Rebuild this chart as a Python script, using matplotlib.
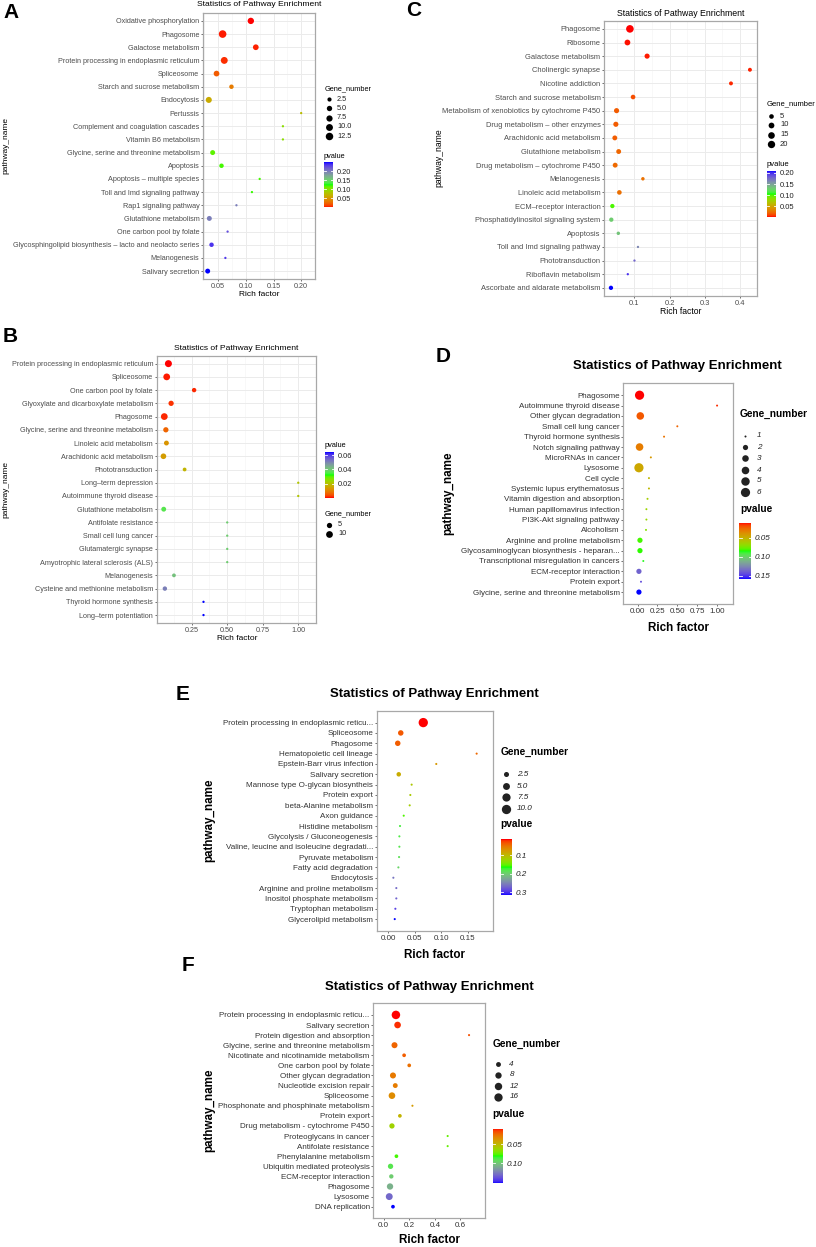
import numpy as np
import matplotlib
matplotlib.use("Agg")
import matplotlib.pyplot as plt
from matplotlib.colors import ListedColormap, Normalize
from matplotlib.cm import ScalarMappable

plt.rcParams['font.family'] = ['Liberation Sans', 'DejaVu Sans']

W, H, DPI = 816, 1247, 100

# ---------------- data ----------------
a_names = ["Oxidative phosphorylation", "Phagosome", "Galactose metabolism",
           "Protein processing in endoplasmic reticulum", "Spliceosome",
           "Starch and sucrose metabolism", "Endocytosis", "Pertussis",
           "Complement and coagulation cascades", "Vitamin B6 metabolism",
           "Glycine, serine and threonine metabolism", "Apoptosis",
           "Apoptosis \u2013 multiple species", "Toll and Imd signaling pathway",
           "Rap1 signaling pathway", "Glutathione metabolism", "One carbon pool by folate",
           "Glycosphingolipid biosynthesis \u2013 lacto and neolacto series",
           "Melanogenesis", "Salivary secretion"]
a_rich = [0.109, 0.058, 0.118, 0.061, 0.047, 0.074, 0.033, 0.200, 0.167, 0.167,
          0.040, 0.056, 0.125, 0.111, 0.083, 0.034, 0.067, 0.038, 0.063, 0.031]
a_genes = [8, 13, 6, 10, 6, 3, 7, 1, 1, 1, 4, 3, 1, 1, 1, 4, 1, 3, 1, 4]
a_pvalue = [0.001, 0.003, 0.004, 0.006, 0.02, 0.035, 0.063, 0.075, 0.10, 0.10,
            0.115, 0.12, 0.12, 0.122, 0.20, 0.20, 0.225, 0.237, 0.235, 0.25]

b_names = ["Protein processing in endoplasmic reticulum", "Spliceosome",
           "One carbon pool by folate", "Glyoxylate and dicarboxylate metabolism",
           "Phagosome", "Glycine, serine and threonine metabolism",
           "Linoleic acid metabolism", "Arachidonic acid metabolism", "Phototransduction",
           "Long\u2013term depression", "Autoimmune thyroid disease", "Glutathione metabolism",
           "Antifolate resistance", "Small cell lung cancer", "Glutamatergic synapse",
           "Amyotrophic lateral sclerosis (ALS)", "Melanogenesis",
           "Cysteine and methionine metabolism", "Thyroid hormone synthesis",
           "Long\u2013term potentiation"]
b_rich = [0.086, 0.074, 0.267, 0.105, 0.057, 0.068, 0.072, 0.051, 0.200, 1.0,
          1.0, 0.053, 0.5, 0.5, 0.5, 0.5, 0.125, 0.061, 0.333, 0.333]
b_genes = [11, 10, 3, 5, 10, 5, 4, 6, 2, 1, 1, 4, 1, 1, 1, 1, 2, 3, 1, 1]
b_pvalue = [0.0005, 0.001, 0.0015, 0.002, 0.0015, 0.0064, 0.0128, 0.014, 0.018, 0.021,
            0.021, 0.036, 0.0397, 0.0397, 0.0397, 0.0397, 0.0416, 0.051, 0.064, 0.064]

c_names = ["Phagosome", "Ribosome", "Galactose metabolism", "Cholinergic synapse",
           "Nicotine addiction", "Starch and sucrose metabolism",
           "Metabolism of xenobiotics by cytochrome P450",
           "Drug metabolism \u2013 other enzymes", "Arachidonic acid metabolism",
           "Glutathione metabolism", "Drug metabolism \u2013 cytochrome P450",
           "Melanogenesis", "Linoleic acid metabolism", "ECM\u2013receptor interaction",
           "Phosphatidylinositol signaling system", "Apoptosis",
           "Toll and Imd signaling pathway", "Phototransduction", "Riboflavin metabolism",
           "Ascorbate and aldarate metabolism"]
c_rich = [0.087, 0.080, 0.136, 0.429, 0.375, 0.096, 0.049, 0.047, 0.044, 0.055,
          0.045, 0.124, 0.057, 0.037, 0.034, 0.054, 0.110, 0.100, 0.081, 0.033]
c_genes = [22, 10, 7, 3, 3, 5, 7, 7, 6, 6, 6, 2, 5, 4, 4, 2, 1, 1, 1, 4]
c_pvalue = [0.001, 0.002, 0.003, 0.004, 0.005, 0.0125, 0.017, 0.017, 0.018, 0.021,
            0.022, 0.025, 0.024, 0.10, 0.13, 0.134, 0.163, 0.178, 0.199, 0.209]

d_names = ["Phagosome", "Autoimmune thyroid disease", "Other glycan degradation",
           "Small cell lung cancer", "Thyroid hormone synthesis", "Notch signaling pathway",
           "MicroRNAs in cancer", "Lysosome", "Cell cycle", "Systemic lupus erythematosus",
           "Vitamin digestion and absorption", "Human papillomavirus infection",
           "PI3K-Akt signaling pathway", "Alcoholism", "Arginine and proline metabolism",
           "Glycosaminoglycan biosynthesis - heparan...",
           "Transcriptional misregulation in cancers", "ECM-receptor interaction",
           "Protein export", "Glycine, serine and threonine metabolism"]
d_rich = [0.025, 1.0, 0.034, 0.5, 0.333, 0.025, 0.167, 0.017, 0.143, 0.143,
          0.125, 0.111, 0.111, 0.106, 0.030, 0.030, 0.072, 0.017, 0.043, 0.017]
d_genes = [6, 1, 4, 1, 1, 4, 1, 6, 1, 1, 1, 1, 1, 1, 2, 2, 1, 2, 1, 2]
d_pvalue = [0.0105, 0.0135, 0.021, 0.024, 0.028, 0.031, 0.040, 0.046, 0.052, 0.053,
            0.062, 0.065, 0.066, 0.070, 0.081, 0.083, 0.087, 0.137, 0.143, 0.158]

e_names = ["Protein processing in endoplasmic reticu...", "Spliceosome", "Phagosome",
           "Hematopoietic cell lineage", "Epstein-Barr virus infection", "Salivary secretion",
           "Mannose type O-glycan biosyntheis", "Protein export", "beta-Alanine metabolism",
           "Axon guidance", "Histidine metabolism", "Glycolysis / Gluconeogenesis",
           "Valine, leucine and isoleucine degradati...", "Pyruvate metabolism",
           "Fatty acid degradation", "Endocytosis", "Arginine and proline metabolism",
           "Inositol phosphate metabolism", "Tryptophan metabolism", "Glycerolipid metabolism"]
e_rich = [0.066, 0.0234, 0.0177, 0.167, 0.0906, 0.0196, 0.044, 0.0415, 0.0403, 0.029,
          0.022, 0.0208, 0.0208, 0.0202, 0.0189, 0.0094, 0.015, 0.015, 0.0132, 0.012]
e_genes = [10, 3, 3, 1, 1, 2, 1, 1, 1, 1, 1, 1, 1, 1, 1, 1, 1, 1, 1, 1]
e_pvalue = [0.016, 0.037, 0.040, 0.046, 0.076, 0.0905, 0.114, 0.117, 0.120, 0.156,
            0.177, 0.180, 0.183, 0.186, 0.195, 0.260, 0.266, 0.272, 0.290, 0.314]

f_names = ["Protein processing in endoplasmic reticu...", "Salivary secretion",
           "Protein digestion and absorption", "Glycine, serine and threonine metabolism",
           "Nicotinate and nicotinamide metabolism", "One carbon pool by folate",
           "Other glycan degradation", "Nucleotide excision repair", "Spliceosome",
           "Phosphonate and phosphinate metabolism", "Protein export",
           "Drug metabolism - cytochrome P450", "Proteoglycans in cancer",
           "Antifolate resistance", "Phenylalanine metabolism",
           "Ubiquitin mediated proteolysis", "ECM-receptor interaction", "Phagosome",
           "Lysosome", "DNA replication"]
f_rich = [0.096, 0.109, 0.667, 0.085, 0.160, 0.200, 0.073, 0.091, 0.065, 0.225,
          0.127, 0.065, 0.5, 0.5, 0.100, 0.054, 0.060, 0.050, 0.044, 0.073]
f_genes = [17, 9, 1, 7, 2, 2, 7, 4, 9, 1, 2, 5, 1, 1, 2, 5, 3, 8, 10, 2]
f_pvalue = [0.009, 0.012, 0.0176, 0.022, 0.0205, 0.025, 0.028, 0.029, 0.0335, 0.039,
            0.048, 0.061, 0.074, 0.074, 0.078, 0.0895, 0.098, 0.107, 0.131, 0.153]


# ---------------- colour scale: red -> green -> blue in Lab (like ggplot) ----------------
M = np.array([[0.4124564, 0.3575761, 0.1804375],
              [0.2126729, 0.7151522, 0.0721750],
              [0.0193339, 0.1191920, 0.9503041]])
WHITE = np.array([0.95047, 1.0, 1.08883])


def to_lab(rgb):
    c = np.asarray(rgb, float)
    c = np.where(c <= 0.04045, c / 12.92, ((c + 0.055) / 1.055) ** 2.4)
    xyz = M @ c / WHITE
    f = np.where(xyz > 0.008856, np.cbrt(xyz), 7.787 * xyz + 16 / 116)
    return np.array([116 * f[1] - 16, 500 * (f[0] - f[1]), 200 * (f[1] - f[2])])


def from_lab(lab):
    L, a, b = lab
    fy = (L + 16) / 116
    f = np.array([fy + a / 500, fy, fy - b / 200])
    xyz = np.where(f ** 3 > 0.008856, f ** 3, (f - 16 / 116) / 7.787) * WHITE
    c = np.clip(np.linalg.solve(M, xyz), 0, 1)
    c = np.where(c <= 0.0031308, 12.92 * c, 1.055 * c ** (1 / 2.4) - 0.055)
    return np.clip(c, 0, 1)


stops = [to_lab(c) for c in [(1, 0, 0), (0, 1, 0), (0, 0, 1)]]
cols = []
for t in np.linspace(0, 1, 256):
    seg = min(int(t * 2), 1)
    u = t * 2 - seg
    cols.append(from_lab(stops[seg] * (1 - u) + stops[seg + 1] * u))
CMAP = ListedColormap(cols)

fig = plt.figure(figsize=(W / DPI, H / DPI), dpi=DPI)


def rect(x0, y0, x1, y1):
    return [x0 / W, 1 - y1 / H, (x1 - x0) / W, (y1 - y0) / H]


def diam(n, genes, dots):
    lo, hi = min(genes), max(genes)
    r = (np.asarray(n, float) - lo) / (hi - lo)
    return dots[0] + (dots[1] - dots[0]) * np.sqrt(np.clip(r, 0, 1))


def area(d):
    return (d * 72 / DPI) ** 2


texts = []    # drawn later on an overlay axes in pixel coords
ov_dots = []


def draw_panel(names, rich, genes, pval, lay):
    bold = lay['bold']
    ax = fig.add_axes(rect(*lay['box']))
    n = len(names)
    ypos = np.arange(n, 0, -1)
    lo, hi = min(rich), max(rich)
    pad = lay['xexp'] * (hi - lo)
    ax.set_xlim(lo - pad, hi + pad)
    ax.set_ylim(1 - lay['yexp'], n + lay['yexp'])
    norm = Normalize(min(pval), max(pval))
    ax.scatter(rich, ypos, s=area(diam(genes, genes, lay['dots'])), c=pval, cmap=CMAP,
               norm=norm, linewidths=0, zorder=3)
    ax.set_yticks(ypos, names)
    ax.set_xticks(lay['xticks'], lay['xlabels'])
    lc = '#333333' if bold else '#4d4d4d'
    ax.tick_params(length=1.6, width=0.5, pad=1.0, labelsize=lay['tick_fs'],
                   color='#333333', labelcolor=lc)
    for sp in ax.spines.values():
        sp.set_color('#a8a8a8')
        sp.set_linewidth(0.9)
    if not bold:
        step = lay['xticks'][1] - lay['xticks'][0]
        minor = np.arange(lay['xticks'][0] - step / 2, lay['xticks'][-1] + step, step)
        ax.set_xticks(minor, minor=True)
        ax.tick_params(which='minor', length=0)
        ax.grid(which='major', color='#ebebeb', lw=0.7)
        ax.grid(which='minor', axis='x', color='#f3f3f3', lw=0.4)
        ax.set_axisbelow(True)

    fw = 'bold' if bold else 'normal'
    texts.append((lay['letter_xy'], lay['letter'], dict(fontsize=15, fontweight='bold',
                                                       ha='left', va='center')))
    texts.append((lay['title_xy'], "Statistics of Pathway Enrichment",
                  dict(fontsize=lay['title_fs'], fontweight=fw, ha='center', va='center')))
    texts.append((lay['xlab_xy'], "Rich factor",
                  dict(fontsize=lay['lab_fs'], fontweight=fw, ha='center', va='center')))
    texts.append((lay['ylab_xy'], "pathway_name",
                  dict(fontsize=lay['lab_fs'], fontweight=fw, ha='center', va='center',
                       rotation=90)))

    # size legend
    lst = 'italic' if bold else 'normal'
    texts.append((lay['size_title'], "Gene_number",
                  dict(fontsize=lay['leg_title_fs'], fontweight=fw, ha='left', va='center')))
    for b, yy in zip(lay['breaks'], lay['break_y']):
        ov_dots.append((lay['dot_x'], yy, area(diam(b, genes, lay['dots'])),
                        '#222222' if bold else 'black'))
        texts.append(((lay['lab_x'], yy), lay['break_fmt'].format(b),
                      dict(fontsize=lay['leg_fs'], style=lst, ha='left', va='center',
                           color='#222222')))

    # colour bar
    texts.append((lay['p_title'], "pvalue",
                  dict(fontsize=lay['leg_title_fs'], fontweight=fw, ha='left', va='center')))
    cax = fig.add_axes(rect(*lay['bar']))
    cb = fig.colorbar(ScalarMappable(norm=norm, cmap=CMAP), cax=cax)
    cb.outline.set_visible(False)
    cb.set_ticks(lay['pticks'])
    cb.set_ticklabels(lay['plabels'])
    cax.tick_params(length=0, labelsize=lay['leg_fs'], pad=2.6, labelcolor='#222222')
    if bold:
        for t in cax.get_yticklabels():
            t.set_style('italic')
        cax.invert_yaxis()
    for t in lay['pticks']:
        cax.axhline(t, xmin=0, xmax=0.2, color='white', lw=0.6)
        cax.axhline(t, xmin=0.8, xmax=1, color='white', lw=0.6)


small = dict(bold=False, xexp=0.05, yexp=0.6, tick_fs=5.25, title_fs=6.1, lab_fs=6.0,
             leg_title_fs=5.3, leg_fs=5.3)
big = dict(bold=True, xexp=0.2, yexp=1.15, tick_fs=5.8, title_fs=9.5, lab_fs=8.4,
           leg_title_fs=7.3, leg_fs=5.9)

draw_panel(a_names, a_rich, a_genes, a_pvalue, dict(
    small, box=(203, 13, 315, 279), dots=(2.3, 7.6),
    xticks=[0.05, 0.10, 0.15, 0.20], xlabels=['0.05', '0.10', '0.15', '0.20'],
    letter='A', letter_xy=(3, 12), title_xy=(259, 5), xlab_xy=(259, 294), ylab_xy=(6, 146),
    size_title=(325, 89), dot_x=329, lab_x=337, breaks=[2.5, 5, 7.5, 10, 12.5],
    break_y=[99.3, 108.3, 117.7, 127, 136], break_fmt='{:.1f}',
    p_title=(324, 156), bar=(324, 162.3, 333.3, 207.3),
    pticks=[0.05, 0.10, 0.15, 0.20], plabels=['0.05', '0.10', '0.15', '0.20']))

draw_panel(b_names, b_rich, b_genes, b_pvalue, dict(
    small, box=(156.7, 355.7, 316, 623), dots=(2.3, 7.0),
    xticks=[0.25, 0.50, 0.75, 1.00], xlabels=['0.25', '0.50', '0.75', '1.00'],
    letter='B', letter_xy=(3, 336.5), title_xy=(236.5, 348.3), xlab_xy=(237, 638),
    ylab_xy=(6, 490),
    size_title=(325, 514), dot_x=329.3, lab_x=338, breaks=[5, 10],
    break_y=[525, 533.7], break_fmt='{:g}',
    p_title=(325, 445.7), bar=(325, 452.3, 334, 497.7),
    pticks=[0.02, 0.04, 0.06], plabels=['0.02', '0.04', '0.06']))

draw_panel(c_names, c_rich, c_genes, c_pvalue, dict(
    small, box=(604, 20.7, 757.3, 296), dots=(2.3, 7.6), tick_fs=5.4, title_fs=6.3,
    lab_fs=6.2, leg_title_fs=5.5, leg_fs=5.5,
    xticks=[0.1, 0.2, 0.3, 0.4], xlabels=['0.1', '0.2', '0.3', '0.4'],
    letter='C', letter_xy=(406, 10.5), title_xy=(680.8, 14), xlab_xy=(680.7, 311),
    ylab_xy=(439, 158),
    size_title=(766.7, 104), dot_x=770.7, lab_x=780, breaks=[5, 10, 15, 20],
    break_y=[116, 125, 135, 144], break_fmt='{:g}',
    p_title=(766.7, 164), bar=(766.7, 171, 776, 217),
    pticks=[0.05, 0.10, 0.15, 0.20], plabels=['0.05', '0.10', '0.15', '0.20']))

draw_panel(d_names, d_rich, d_genes, d_pvalue, dict(
    big, box=(623.3, 383.3, 732.7, 604), dots=(2.0, 9.2),
    xticks=[0, 0.25, 0.5, 0.75, 1.0], xlabels=['0.00', '0.25', '0.50', '0.75', '1.00'],
    letter='D', letter_xy=(436, 357), title_xy=(677.7, 366), xlab_xy=(678.3, 628.3),
    ylab_xy=(448.3, 493.3),
    size_title=(740, 414), dot_x=745, lab_x=756.7, breaks=[1, 2, 3, 4, 5, 6],
    break_y=[435.7, 447.3, 458.3, 470, 481, 492.3], break_fmt='{:g}',
    p_title=(740, 509), bar=(739.3, 523, 751, 579),
    pticks=[0.05, 0.10, 0.15], plabels=['0.05', '0.10', '0.15']))

draw_panel(e_names, e_rich, e_genes, e_pvalue, dict(
    big, box=(376.7, 710.7, 493.3, 931), dots=(2.1, 9.3),
    xticks=[0, 0.05, 0.10, 0.15], xlabels=['0.00', '0.05', '0.10', '0.15'],
    letter='E', letter_xy=(176, 694), title_xy=(434.7, 693.7), xlab_xy=(435, 955),
    ylab_xy=(209.3, 820),
    size_title=(500.7, 752.3), dot_x=506, lab_x=516.7, breaks=[2.5, 5, 7.5, 10],
    break_y=[774.3, 786, 797.3, 808.7], break_fmt='{:.1f}',
    p_title=(500.7, 824.3), bar=(500.7, 839.3, 511.7, 895),
    pticks=[0.1, 0.2, 0.3], plabels=['0.1', '0.2', '0.3']))

draw_panel(f_names, f_rich, f_genes, f_pvalue, dict(
    big, box=(373.3, 1003.3, 485, 1218.3), dots=(2.1, 8.5),
    xticks=[0, 0.2, 0.4, 0.6], xlabels=['0.0', '0.2', '0.4', '0.6'],
    letter='F', letter_xy=(182, 965.5), title_xy=(429.3, 986.7), xlab_xy=(429.3, 1240),
    ylab_xy=(209.3, 1110),
    size_title=(492.7, 1044), dot_x=497.7, lab_x=509.3, breaks=[4, 8, 12, 16],
    break_y=[1064, 1075, 1086, 1097], break_fmt='{:g}',
    p_title=(492.7, 1114), bar=(492.7, 1128.7, 503.3, 1183.3),
    pticks=[0.05, 0.10], plabels=['0.05', '0.10']))

# overlay in pixel coordinates for titles, labels and legends
ov = fig.add_axes([0, 0, 1, 1])
ov.set_xlim(0, W)
ov.set_ylim(H, 0)
ov.axis('off')
for (x, y), s, kw in texts:
    ov.text(x, y, s, **kw)
for x, y, s, c in ov_dots:
    ov.scatter([x], [y], s=s, color=c, linewidths=0)

fig.savefig('out.png', dpi=DPI)
